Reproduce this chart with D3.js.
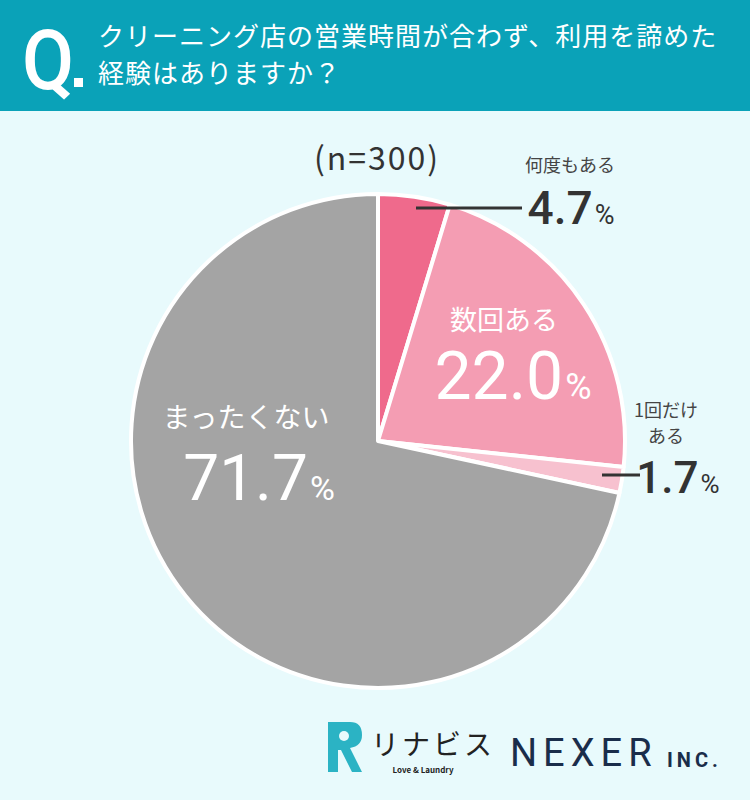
<!DOCTYPE html>
<html>
<head>
<meta charset="utf-8">
<script src="https://cdn.jsdelivr.net/npm/d3@7"></script>
<style>
  body { margin: 0; background: #E8FAFC; }
  svg { display: block; font-family: "Noto Sans CJK JP", "Noto Sans", sans-serif; }
</style>
</head>
<body>
<div id="chart"></div>
<script>
// survey data
const categories = ["何度もある", "数回ある", "1回だけある", "まったくない"];
const values = [4.7, 22.0, 1.7, 71.7];
const colors = ["#EF6A8C", "#F49DB3", "#F7C1CF", "#A4A4A4"];
const titleLines = ["クリーニング店の営業時間が合わず、利用を諦めた", "経験はありますか？"];
const sampleNote = "(n=300)";

const W = 750, H = 800;
const svg = d3.select("#chart").append("svg")
  .attr("width", W).attr("height", H);

svg.append("rect").attr("width", W).attr("height", H).attr("fill", "#E8FAFC");

// header band
svg.append("rect").attr("width", W).attr("height", 111).attr("fill", "#0AA2B8");
svg.append("text")
  .attr("x", 22).attr("y", 89)
  .attr("fill", "#fff").attr("font-size", 84).attr("font-weight", 500)
  .attr("font-family", "Roboto, sans-serif")
  .attr("transform", "translate(22,89) scale(0.9,1) translate(-22,-89)")
  .text("Q");
svg.append("rect").attr("x", 74).attr("y", 78).attr("width", 9).attr("height", 9).attr("fill", "#fff");
svg.selectAll("text.title").data(titleLines).join("text")
  .attr("class", "title")
  .attr("x", 98).attr("y", (d, i) => 46 + i * 37)
  .attr("fill", "#fff").attr("font-size", 26).attr("letter-spacing", 1)
  .text(d => d);

// pie
const cx = 378, cy = 441, r = 247;
const pie = d3.pie().sort(null).value(d => d)(values);
const arc = d3.arc().innerRadius(0).outerRadius(r);
const g = svg.append("g").attr("transform", `translate(${cx},${cy})`);
g.selectAll("path").data(pie).join("path")
  .attr("d", arc)
  .attr("fill", (d, i) => colors[i])
  .attr("stroke", "#fff").attr("stroke-width", 4).attr("stroke-linejoin", "round");

// n note
svg.append("text")
  .attr("x", 377).attr("y", 170).attr("text-anchor", "middle")
  .attr("fill", "#333").attr("font-size", 32).attr("letter-spacing", 2)
  .text(sampleNote);

function pctLabel(x, y, val, bigSize, smallSize, fill, weight) {
  const t = svg.append("text")
    .attr("x", x).attr("y", y).attr("text-anchor", "middle")
    .attr("fill", fill).attr("font-weight", weight)
    .attr("font-family", "Roboto, 'Noto Sans', sans-serif");
  t.append("tspan").attr("font-size", bigSize).text(val.toFixed(1));
  t.append("tspan").attr("font-size", smallSize).attr("font-weight", 400).attr("dx", 2).text("%");
  return t;
}

// leader lines
svg.append("line")
  .attr("x1", 416).attr("y1", 208).attr("x2", 522).attr("y2", 208)
  .attr("stroke", "#333").attr("stroke-width", 3);
svg.append("line")
  .attr("x1", 602).attr("y1", 475).attr("x2", 640).attr("y2", 475)
  .attr("stroke", "#333").attr("stroke-width", 3);

// 何度もある
svg.append("text").attr("x", 570).attr("y", 172).attr("text-anchor", "middle")
  .attr("fill", "#444").attr("font-size", 18).text(categories[0]);
pctLabel(571, 224, values[0], 46, 27, "#333", 500);

// 数回ある
svg.append("text").attr("x", 504).attr("y", 330).attr("text-anchor", "middle")
  .attr("fill", "#fff").attr("font-size", 27).text(categories[1]);
pctLabel(513, 399, values[1], 66, 36, "#fff", 400);

// 1回だけある
svg.append("text").attr("x", 666).attr("y", 417).attr("text-anchor", "middle")
  .attr("fill", "#444").attr("font-size", 18).text("1回だけ");
svg.append("text").attr("x", 666).attr("y", 443).attr("text-anchor", "middle")
  .attr("fill", "#444").attr("font-size", 18).text("ある");
pctLabel(678, 493, values[2], 44, 26, "#333", 500);

// まったくない
svg.append("text").attr("x", 246).attr("y", 428).attr("text-anchor", "middle")
  .attr("fill", "#fff").attr("font-size", 28).text(categories[3]);
pctLabel(259, 500, values[3], 64, 34, "#fff", 400);

// logos
const logo = svg.append("g").attr("transform", "translate(328,722)");
logo.append("path")
  .attr("d", "M0,0 H22 Q34,0 34,13 Q34,24 22,26 L34,50 H24 L13,28 H10 V50 H0 Z")
  .attr("fill", "#2BB3C4");
logo.append("circle").attr("cx", 16).attr("cy", 14).attr("r", 5).attr("fill", "#E8FAFC");
svg.append("text").attr("x", 371).attr("y", 755)
  .attr("fill", "#222").attr("font-size", 28).attr("letter-spacing", 3).text("リナビス");
svg.append("text").attr("x", 423).attr("y", 773).attr("text-anchor", "middle")
  .attr("fill", "#222").attr("font-size", 8).attr("font-weight", 700).text("Love & Laundry");
svg.append("text").attr("x", 510).attr("y", 766)
  .attr("fill", "#1A2D4A").attr("font-size", 38).attr("letter-spacing", 6)
  .attr("font-family", "Roboto, sans-serif").text("NEXER");
svg.append("text").attr("x", 667).attr("y", 767)
  .attr("fill", "#1A2D4A").attr("font-size", 20).attr("font-weight", 700).attr("letter-spacing", 4)
  .attr("font-family", "Roboto, sans-serif").text("INC.");
</script>
</body>
</html>
